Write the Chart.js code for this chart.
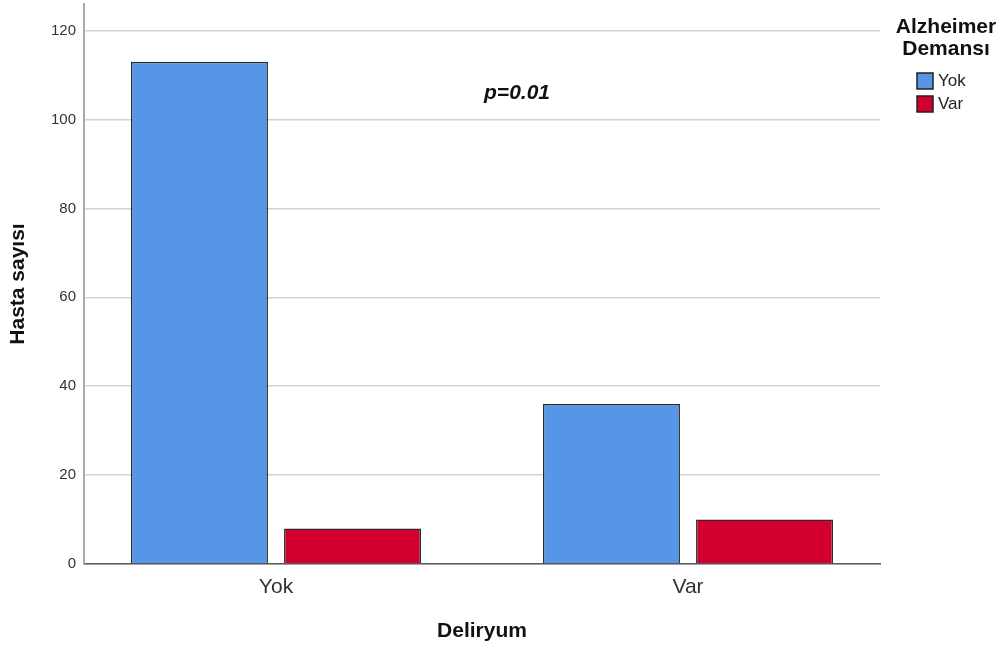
<!DOCTYPE html>
<html>
<head>
<meta charset="utf-8">
<title>Deliryum - Alzheimer Demansı</title>
<script src="https://cdn.jsdelivr.net/npm/chart.js@4.4.0/dist/chart.umd.min.js"></script>
<style>
    body { margin: 0; background: #fff; }
    #wrap { width: 1007px; height: 650px; position: relative; }
</style>
</head>
<body>
<div id="wrap"><canvas id="barChart"></canvas></div>
<script>
// Veriler
const categories = ['Yok', 'Var'];          // Deliryum
const seriesNames = ['Yok', 'Var'];         // Alzheimer Demansı
const dementiaNo = [113, 36];
const dementiaYes = [8, 10];
const yTicks = [0, 20, 40, 60, 80, 100, 120];
const yMax = 126;

const pText = 'p=0.01';
const pAt = { x: 0.585, y: 106 };

const FONT = "'Liberation Sans', Arial, sans-serif";
const colors = ['#5596e6', '#d3002f'];

// Sağdaki lejant ve p değeri
const extrasPlugin = {
    id: 'extras',
    afterDraw(chart) {
        const ctx = chart.ctx;
        const area = chart.chartArea;
        ctx.save();

        // p değeri
        ctx.font = 'italic bold 21px ' + FONT;
        ctx.fillStyle = '#111';
        ctx.textAlign = 'center';
        ctx.textBaseline = 'middle';
        ctx.fillText(pText, chart.scales.x.getPixelForValue(pAt.x), chart.scales.y.getPixelForValue(pAt.y));

        // lejant başlığı
        const cx = area.right + 66;
        ctx.font = 'bold 21px ' + FONT;
        ctx.fillStyle = '#111';
        ctx.textBaseline = 'alphabetic';
        ctx.fillText('Alzheimer', cx, 33);
        ctx.fillText('Demansı', cx, 55);

        // lejant öğeleri
        ctx.font = '17px ' + FONT;
        ctx.textAlign = 'left';
        ctx.textBaseline = 'middle';
        chart.data.datasets.forEach((ds, i) => {
            const y = 73 + i * 23;
            ctx.fillStyle = ds.backgroundColor;
            ctx.fillRect(area.right + 37, y, 16, 16);
            ctx.strokeStyle = '#222';
            ctx.lineWidth = 1.5;
            ctx.strokeRect(area.right + 37, y, 16, 16);
            ctx.fillStyle = '#222';
            ctx.fillText(ds.label, area.right + 58, y + 8.5);
        });
        ctx.restore();
    }
};

const ctx = document.getElementById('barChart').getContext('2d');
new Chart(ctx, {
    type: 'bar',
    data: {
        datasets: [
            {
                label: seriesNames[0],
                data: categories.map((c, i) => ({ x: i, y: dementiaNo[i] })),
                backgroundColor: colors[0],
                borderColor: '#2b2b2b',
                borderWidth: 1.5
            },
            {
                label: seriesNames[1],
                data: categories.map((c, i) => ({ x: i, y: dementiaYes[i] })),
                backgroundColor: colors[1],
                borderColor: '#2b2b2b',
                borderWidth: 1.5
            }
        ]
    },
    options: {
        responsive: true,
        maintainAspectRatio: false,
        animation: false,
        categoryPercentage: 0.743,
        barPercentage: 0.895,
        layout: { padding: { top: 4, right: 127, left: 0, bottom: 0 } },
        plugins: {
            legend: { display: false },
            tooltip: { enabled: false }
        },
        scales: {
            x: {
                type: 'linear',
                offset: false,
                min: -0.466,
                max: 1.466,
                afterBuildTicks: (scale) => {
                    scale.ticks = categories.map((c, i) => ({ value: i }));
                },
                afterFit: (scale) => {
                    scale.height = 86;
                    scale.paddingLeft = 0;
                    scale.paddingRight = 0;
                },
                grid: { display: false, drawTicks: false, offset: false },
                border: { color: '#5a5a5a', width: 1.5 },
                ticks: {
                    padding: 11,
                    color: '#333',
                    font: { family: FONT, size: 21 },
                    callback: (v) => categories[v]
                },
                title: {
                    display: true,
                    text: 'Deliryum',
                    color: '#111',
                    font: { family: FONT, size: 21, weight: 'bold' },
                    padding: { top: 0, bottom: 6 }
                }
            },
            y: {
                min: 0,
                max: yMax,
                afterBuildTicks: (scale) => {
                    scale.ticks = yTicks.map(v => ({ value: v }));
                },
                afterFit: (scale) => {
                    scale.width = 84;
                    scale.paddingTop = 0;
                    scale.paddingBottom = 0;
                },
                grid: { color: '#d2d2d2', lineWidth: 1.5, drawTicks: false },
                border: { color: '#a9a9a9', width: 2 },
                ticks: {
                    padding: 8,
                    color: '#333',
                    font: { family: FONT, size: 15 }
                },
                title: {
                    display: true,
                    text: 'Hasta sayısı',
                    color: '#111',
                    font: { family: FONT, size: 21, weight: 'bold' },
                    padding: { top: 6, bottom: 0 }
                }
            }
        }
    },
    plugins: [extrasPlugin]
});
</script>
</body>
</html>
